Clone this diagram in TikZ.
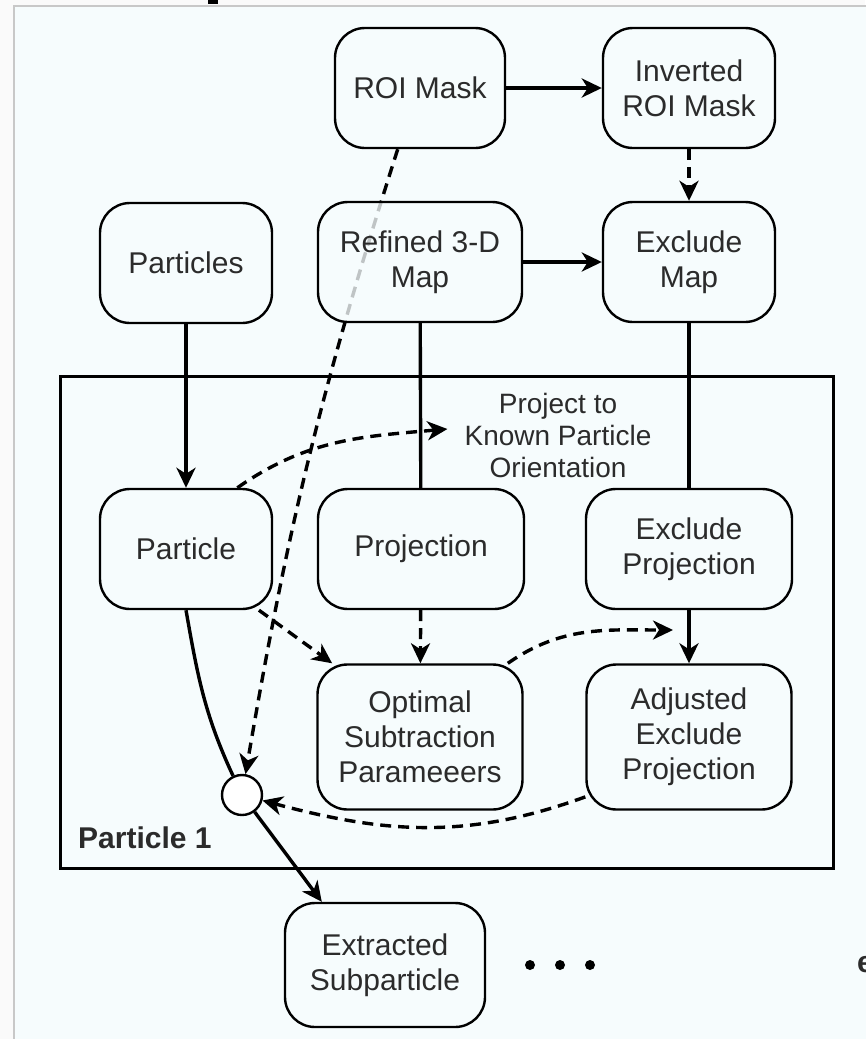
\documentclass[tikz,border=0pt]{standalone}
\usepackage{fontspec}
\setmainfont{Liberation Sans}
\usepackage{tikz}
\usetikzlibrary{arrows.meta, positioning, calc}
\definecolor{pageback}{HTML}{FAFAFA}
\definecolor{panelback}{HTML}{F6FCFD}
\definecolor{panelrule}{HTML}{C8C8C8}
\definecolor{inktext}{HTML}{2B2B2B}
\tikzset{
    databox/.style={rectangle, rounded corners=30pt, draw=black, line width=2.4pt, fill=panelback, fill opacity=0.78, text opacity=1, text=inktext, align=center, font=\fontsize{30}{35}\selectfont, minimum width=172pt, minimum height=120pt, inner sep=0pt},
    solidarrow/.style={line width=3.4pt, -{Stealth[length=20pt, width=19pt, inset=6pt]}},
    dasharrow/.style={line width=3.4pt, dash pattern=on 11pt off 7pt, -{Stealth[length=20pt, width=19pt, inset=6pt]}},
    plainline/.style={line width=3.4pt}
}

\begin{document}
\begin{tikzpicture}[x=1pt, y=1pt,
    every node/.style={align=center},
    mixdot/.style={circle, draw=black, line width=2.4pt, fill=white, minimum size=40pt, inner sep=0pt}
]
    \useasboundingbox (0,0) rectangle (865,-1039);
    \fill[pageback] (0,0) rectangle (865,-1039);
    \filldraw[fill=panelback, draw=panelrule, line width=1.5pt] (14,-6) rectangle (880,-1050);
    \fill[black] (208,0) rectangle (218,-4);
    \node[anchor=west, inner sep=0pt, text=inktext, font=\fontsize{30}{35}\selectfont\bfseries] (cutlabel) at (857,-965) {e};

    \node[databox, minimum width=170pt] (roi) at (420,-88) {ROI Mask};
    \node[mixdot] (mix) at (242,-795) {};
    \draw[dasharrow] (roi.-110) to[bend right=4] (mix);

    \node[databox] (inv) at (689,-88) {Inverted\\ROI Mask};
    \node[databox] (parts) at (186,-263) {Particles};
    \node[databox, minimum width=204pt] (refined) at (420,-262) {Refined 3-D\\Map};
    \node[databox] (exmap) at (689,-262) {Exclude\\Map};

    \node[draw=black, line width=3pt, minimum width=773pt, minimum height=492pt, inner sep=0pt] (frame1) at (446.5,-622) {};
    \node[anchor=west, inner sep=0pt, text=inktext, font=\fontsize{30}{35}\selectfont\bfseries] (framelabel) at (78,-838) {Particle 1};

    \node[databox] (particle) at (186,-549) {Particle};
    \node[databox, minimum width=206pt] (proj) at (421,-549) {Projection};
    \node[databox, minimum width=206pt] (exproj) at (689,-549) {Exclude\\Projection};
    \node[databox, minimum width=205pt, minimum height=145pt] (optim) at (420,-737) {Optimal\\Subtraction\\Parameeers};
    \node[databox, minimum width=205pt, minimum height=145pt] (adjexp) at (689,-737) {Adjusted\\Exclude\\Projection};
    \node[databox, minimum width=200pt, minimum height=124pt] (extr) at (385,-965) {Extracted\\Subparticle};
    \node[inner sep=17pt, text=inktext, font=\fontsize{28}{32}\selectfont] (projtxt) at (558,-435) {Project to\\Known Particle\\Orientation};
    \coordinate (jointip) at (673,-630);

    \foreach \dx in {530,560,590}
        \fill[black] (\dx,-965) circle (5pt);

    \draw[solidarrow] (roi) -- (inv);
    \draw[dasharrow] (inv) -- (exmap);
    \draw[solidarrow] (refined) -- (exmap);
    \draw[solidarrow] (parts) -- (particle);
    \draw[plainline] (refined) -- (proj);
    \draw[plainline] (exmap) -- (exproj);
    \draw[dasharrow] (particle.50) to[out=35, in=185] ([yshift=6pt]projtxt.west);
    \draw[dasharrow] (particle.-40) -- (optim.140);
    \draw[dasharrow] (proj) -- (optim);
    \draw[solidarrow] (exproj) -- (adjexp);
    \draw[dasharrow] (optim.40) to[out=35, in=180] (jointip);
    \draw[dasharrow] (adjexp.210) to[out=200, in=-15] (mix);
    \draw[plainline] (particle.south) to[out=-80, in=115] (mix);
    \draw[solidarrow] (mix) -- (extr.135);
\end{tikzpicture}
\end{document}
